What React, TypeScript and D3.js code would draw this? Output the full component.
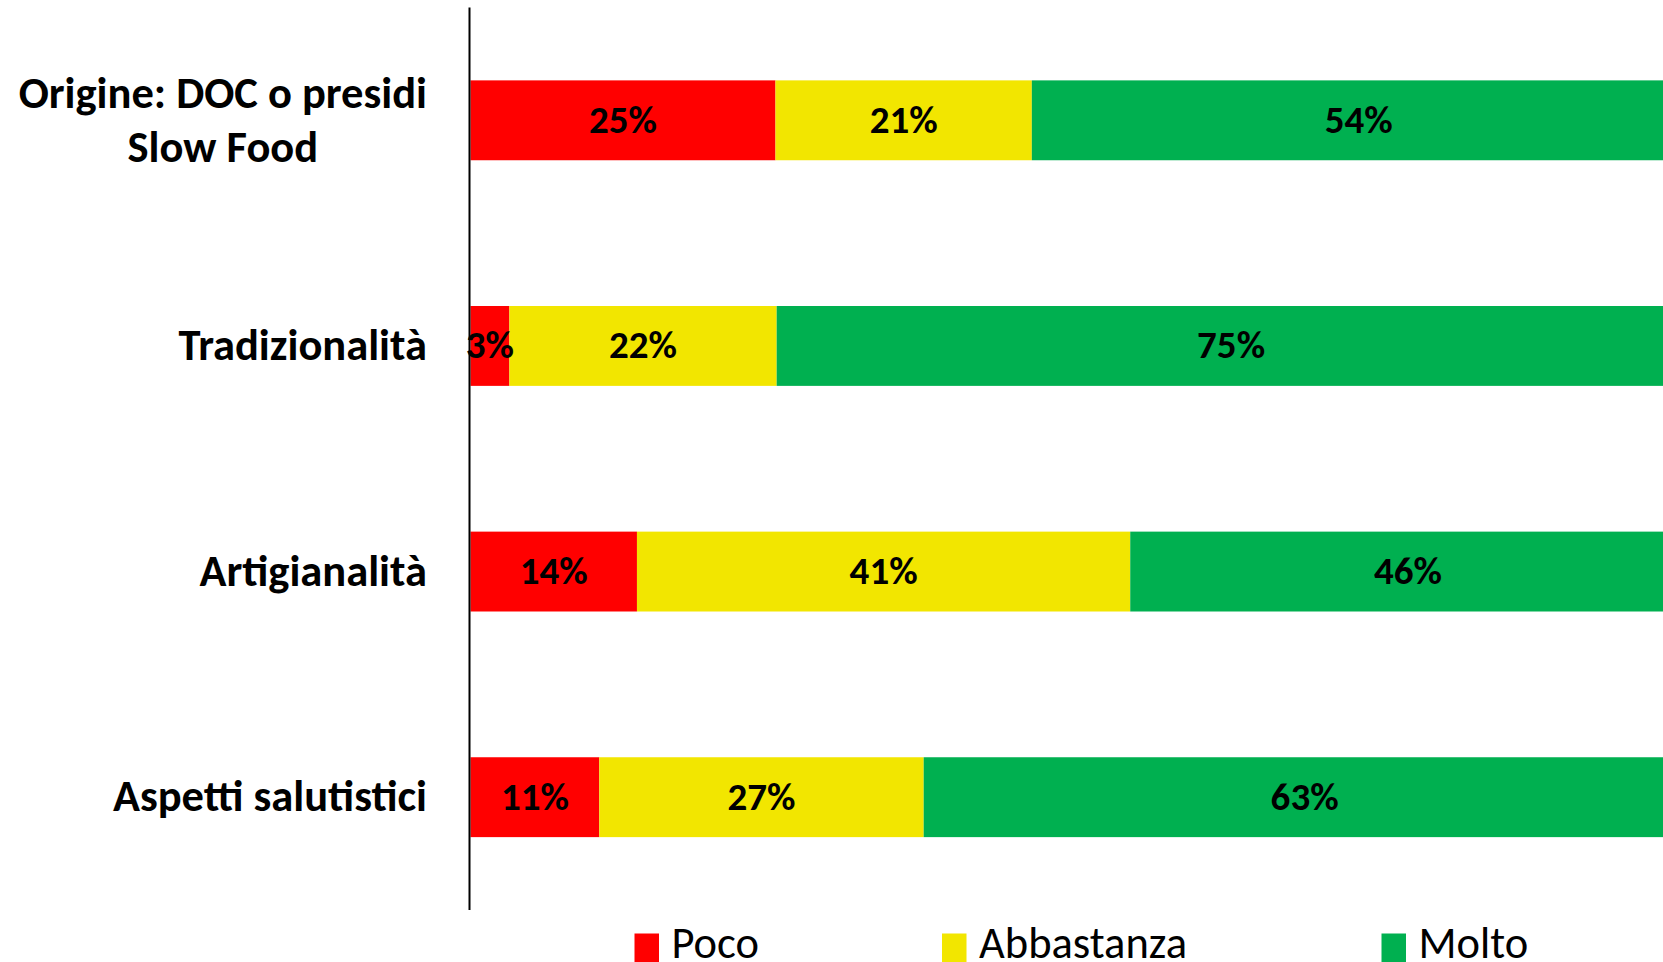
import React, { useEffect, useRef } from "react";
import * as d3 from "d3";

// ---- data ----
const categories = [
  "Origine: DOC o presidi\nSlow Food",
  "Tradizionalità",
  "Artigianalità",
  "Aspetti salutistici",
];
const seriesNames = ["Poco", "Abbastanza", "Molto"];
const poco = [25.1, 3.2, 13.7, 10.6];
const abbastanza = [21.1, 22.0, 40.6, 26.7];
const molto = [53.8, 74.8, 45.7, 62.7];

// ---- style ----
const COLORS = ["#FF0000", "#F2E600", "#00B050"];
const FONT = "Carlito, Lato, 'Open Sans', sans-serif";
const W = 1663;
const H = 962;

export default function App() {
  const ref = useRef<SVGSVGElement | null>(null);

  useEffect(() => {
    const svg = d3.select(ref.current);
    svg.selectAll("*").remove();

    const rows = categories.map((c, i) => ({
      cat: c,
      Poco: poco[i],
      Abbastanza: abbastanza[i],
      Molto: molto[i],
    }));
    const stacked = d3.stack<any>().keys(seriesNames)(rows);

    const x = d3.scaleLinear().domain([0, 100]).range([470.5, 1685.5]);
    const y = d3
      .scaleBand<string>()
      .domain(categories)
      .range([7.5, 910])
      .paddingInner(0.646)
      .paddingOuter(0.323);
    const color = d3.scaleOrdinal<string, string>().domain(seriesNames).range(COLORS);

    const gBars = svg.append("g");
    stacked.forEach((s) => {
      gBars
        .selectAll(null)
        .data(s)
        .enter()
        .append("rect")
        .attr("x", (d: any) => x(d[0]))
        .attr("y", (d: any) => y(d.data.cat)!)
        .attr("width", (d: any) => x(d[1]) - x(d[0]))
        .attr("height", y.bandwidth())
        .attr("fill", color(s.key));
    });

    // axis line
    svg
      .append("line")
      .attr("x1", 469.5)
      .attr("x2", 469.5)
      .attr("y1", y.range()[0])
      .attr("y2", y.range()[1])
      .attr("stroke", "#000")
      .attr("stroke-width", 2);

    // data labels
    const gLab = svg.append("g");
    stacked.forEach((s) => {
      gLab
        .selectAll(null)
        .data(s)
        .enter()
        .append("text")
        .attr("x", (d: any) => (x(d[0]) + x(d[1])) / 2)
        .attr("y", (d: any) => y(d.data.cat)! + y.bandwidth() / 2)
        .attr("dy", "0.32em")
        .attr("text-anchor", "middle")
        .attr("font-family", FONT)
        .attr("font-weight", 700)
        .attr("font-size", 39)
        .attr("fill", "#000")
        .text((d: any) => `${Math.round(d[1] - d[0])}%`);
    });

    // category labels
    const rightEdge = 427;
    const lineH = 54;
    categories.forEach((c) => {
      const lines = c.split("\n");
      const cy = y(c)! + y.bandwidth() / 2;
      const t = svg
        .append("text")
        .attr("font-family", FONT)
        .attr("font-weight", 700)
        .attr("font-size", 44.5)
        .attr("fill", "#000");
      const spans = lines.map((ln, i) =>
        t
          .append("tspan")
          .attr("y", cy + (i - (lines.length - 1) / 2) * lineH)
          .attr("dy", "0.32em")
          .text(ln)
      );
      const widths = spans.map((sp) => (sp.node() as any).getComputedTextLength());
      const maxW = d3.max(widths) || 0;
      const center = rightEdge - maxW / 2;
      spans.forEach((sp) => sp.attr("x", center).attr("text-anchor", "middle"));
    });

    // legend
    const legendX = [634.5, 942, 1381.5];
    const legendY = 933.5;
    const lg = svg.append("g");
    seriesNames.forEach((name, i) => {
      const g = lg.append("g").attr("transform", `translate(${legendX[i]},${legendY})`);
      g.append("rect").attr("width", 24.5).attr("height", 28.5).attr("fill", color(name));
      g.append("text")
        .attr("x", 37)
        .attr("y", 24)
        .attr("font-family", FONT)
        .attr("font-size", 44.5)
        .attr("fill", "#000")
        .text(name);
    });
  }, []);

  return (
    <svg
      ref={ref}
      width={W}
      height={H}
      style={{ position: "absolute", left: 0, top: 0, display: "block", background: "#fff" }}
    />
  );
}
